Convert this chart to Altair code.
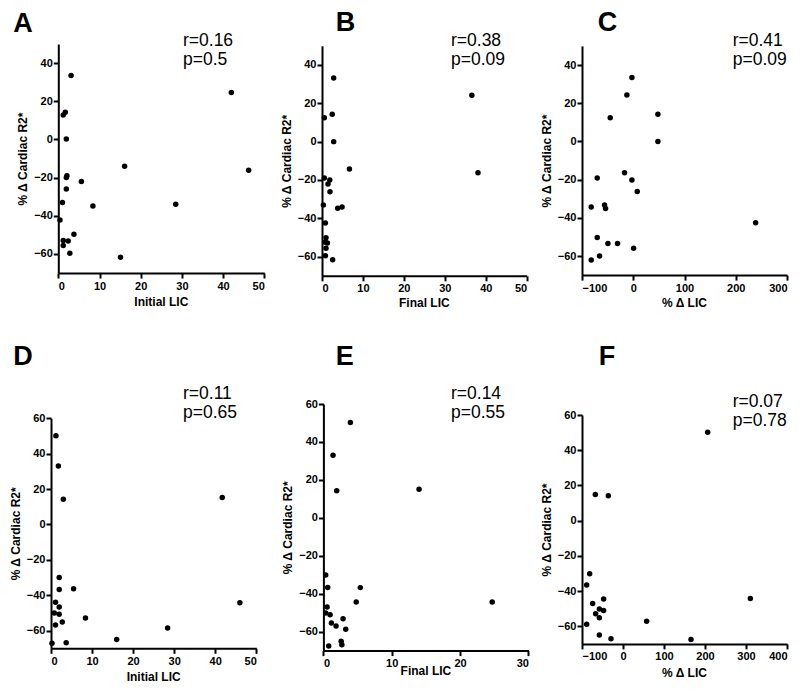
import altair as alt
import pandas as pd

FONT = "Liberation Sans"
YTITLE = "% Δ Cardiac R2*"

# Panel A: Initial LIC vs % change cardiac R2*
a_x = [3.1, 42.0, 1.7, 1.2, 1.95, 16.1, 46.2, 2.1, 1.95, 5.6, 1.95, 1.0, 8.4, 28.5, 0.4, 3.8, 1.2, 2.4, 1.2, 2.8, 15.1]
a_y = [33.5, 24.6, 14.3, 12.8, 0.2, -14.1, -16.2, -19.0, -20.0, -22.1, -26.0, -33.1, -34.9, -34.0, -42.2, -49.7, -53.0, -53.2, -55.6, -59.6, -61.7]

# Panel B: Final LIC
b_x = [2.85, 36.6, 0.57, 2.5, 2.85, 6.7, 38.1, 0.57, 1.9, 1.47, 1.95, 0.34, 3.84, 4.9, 0.83, 0.98, 0.83, 1.32, 0.98, 0.83, 2.6]
b_y = [33.2, 24.2, 12.5, 14.3, 0.0, -14.3, -16.2, -19.0, -20.0, -22.1, -26.1, -33.0, -34.8, -34.1, -42.4, -50.1, -52.5, -52.9, -55.6, -59.5, -61.6]

# Panel C: % change LIC
c_x = [-2.6, -12.4, -44.9, 48.1, 48.1, -17.0, -70.3, -2.6, 7.8, -82.0, -56.0, -54.0, -70.3, -49.4, -30.6, 0.7, -65.7, -82.0, 238.8]
c_y = [33.4, 24.3, 12.4, 14.2, -0.1, -16.4, -19.2, -20.2, -26.2, -34.4, -33.3, -35.1, -50.3, -53.4, -53.4, -55.9, -60.0, -62.1, -42.6]

# Panel D: Initial LIC
d_x = [1.2, 1.8, 3.0, 41.7, 46.0, 2.0, 2.0, 5.5, 1.1, 2.0, 0.8, 2.0, 2.75, 1.1, 8.4, 28.4, 16.0, 3.7, 0.24]
d_y = [50.2, 33.0, 14.3, 15.2, -44.2, -30.0, -36.8, -36.4, -44.0, -46.6, -50.0, -50.8, -55.1, -56.8, -52.9, -58.5, -65.0, -66.8, -67.2]

# Panel E: Final LIC
e_x = [3.95, 1.41, 1.95, 14.0, 24.7, 0.34, 0.63, 5.4, 4.8, 0.54, 0.34, 0.98, 2.88, 1.17, 1.85, 3.27, 2.6, 2.7, 0.78]
e_y = [50.2, 33.0, 14.3, 15.0, -44.4, -30.2, -36.7, -36.8, -44.4, -47.0, -50.2, -51.1, -53.2, -55.5, -57.0, -58.8, -65.1, -66.9, -67.6]

# Panel F: % change LIC
f_x = [206.5, -67.5, -35.8, 310.6, -81.3, -88.6, -74.0, -47.2, -57.7, -47.2, -66.7, -57.7, -88.6, 57.7, -57.7, -29.3, 165.9]
f_y = [50.2, 14.9, 14.2, -44.2, -30.2, -36.6, -47.0, -44.5, -50.2, -51.0, -52.9, -55.2, -58.8, -57.2, -65.0, -67.1, -67.5]

letters = ["A", "B", "C", "D", "E", "F"]
r_texts = ["r=0.16", "r=0.38", "r=0.41", "r=0.11", "r=0.14", "r=0.07"]
p_texts = ["p=0.5", "p=0.09", "p=0.09", "p=0.65", "p=0.55", "p=0.78"]
x_titles = ["Initial LIC", "Final LIC", "% Δ LIC", "Initial LIC", "Final LIC", "% Δ LIC"]

COL_W = [218, 207, 205]
ROW_H = [232, 247]


def text_layer(txt, x, y, size, weight, align="left"):
    return alt.Chart(pd.DataFrame({"t": [txt]})).mark_text(
        align=align, baseline="alphabetic", font=FONT, fontSize=size,
        fontWeight=weight, color="black"
    ).encode(text="t:N", x=alt.value(x), y=alt.value(y))


def panel(xs, ys, xdom, xticks, xrange, ydom, yticks, yrange, idx, col, row, lpos, tpos, xtitle_base):
    h = ROW_H[row]
    df = pd.DataFrame({"x": xs, "y": ys})
    pts = alt.Chart(df).mark_circle(size=30, color="black", opacity=1).encode(
        x=alt.X("x:Q", scale=alt.Scale(domain=xdom, range=xrange, nice=False, zero=False),
                axis=alt.Axis(values=xticks, title=None, offset=yrange[0] - h)),
        y=alt.Y("y:Q", scale=alt.Scale(domain=ydom, range=yrange, nice=False, zero=False),
                axis=alt.Axis(values=yticks, title=YTITLE, offset=-xrange[0])),
    )
    lab = text_layer(letters[idx], lpos[0], lpos[1], 27, "bold")
    r = text_layer(r_texts[idx], tpos[0], tpos[1], 17.5, "normal")
    p = text_layer(p_texts[idx], tpos[0], tpos[1] + 19.3, 17.5, "normal")
    xt = text_layer(x_titles[idx], (xrange[0] + xrange[1]) / 2, xtitle_base, 12, "bold", "center")
    return alt.layer(pts, lab, r, p, xt).properties(width=COL_W[col], height=h)


y_top = [-60, -40, -20, 0, 20, 40]
y_bot = [-60, -40, -20, 0, 20, 40, 60]
lic50 = [0, 10, 20, 30, 40, 50]

pA = panel(a_x, a_y, [0, 50], lic50, [7.3, 213.3], [-70, 50], y_top, [229, 0], 0, 0, 0, (-37.8, -11.7), (132, 1.7), 262)
pB = panel(b_x, b_y, [0, 50], lic50, [0, 204.7], [-70, 50], y_top, [231.8, 1.8], 1, 1, 0, (13.7, -13.5), (129, 1.7), 263.3)
pC = panel(c_x, c_y, [-100, 300], [-100, 0, 100, 200, 300], [0, 205], [-70, 50], y_top, [231.1, 1.9], 2, 2, 0, (15.7, -13.5), (150.7, 1.7), 263.3)
pD = panel(d_x, d_y, [0, 50], lic50, [0, 205.3], [-70, 60], y_bot, [244.3, 14.3], 3, 0, 1, (-37.8, -39), (132, -5), 276.7)
pE = panel(e_x, e_y, [0, 30], [0, 10, 20, 30], [1.4, 206.4], [-70, 60], y_bot, [246.6, 0], 4, 1, 1, (13.7, -39), (129, -5), 270.7)
pF = panel(f_x, f_y, [-100, 400], [-100, 0, 100, 200, 300, 400], [0, 205], [-70, 60], y_bot, [239.9, 11], 5, 2, 1, (16.7, -39), (150.7, 2.7), 273.3)

chart = alt.concat(
    pA, pB, pC, pD, pE, pF,
    columns=3,
    spacing=alt.RowColnumber(row=128, column=53),
    align="each",
    bounds="flush",
).properties(
    padding={"left": 0, "top": 0, "right": 0, "bottom": 0}
).configure_axis(
    domainColor="black", domainWidth=2, tickColor="black", tickWidth=2, tickSize=5,
    labelFont=FONT, labelFontSize=11, labelFontWeight="bold", labelColor="black",
    titleFont=FONT, titleFontSize=12, titleFontWeight="bold", titleColor="black",
    grid=False,
).configure_axisX(labelPadding=2).configure_axisY(
    labelPadding=1, titlePadding=4
).configure_view(stroke="transparent")

chart.save("out.html", embed_options={"renderer": "svg", "actions": False})
